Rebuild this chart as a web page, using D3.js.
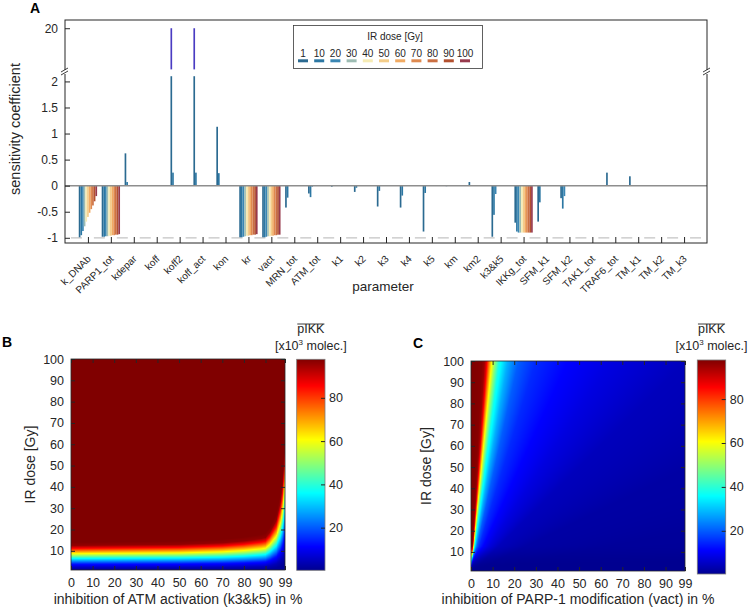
<!DOCTYPE html>
<html><head><meta charset="utf-8">
<script src="https://cdn.jsdelivr.net/npm/d3@7"></script>
<style>
body{margin:0;background:#fff;}
svg{display:block;font-family:"Liberation Sans",Arial,Helvetica,sans-serif;}
</style></head>
<body><svg id="chart" width="748" height="608"></svg>
<script>
// ---------------- DATA ----------------
const parameters = ["k_DNAb","PARP1_tot","kdepar","koff","koff2","koff_act","kon","kr","vact","MRN_tot","ATM_tot","k1","k2","k3","k4","k5","km","km2","k3&k5","IKKg_tot","SFM_k1","SFM_k2","TAK1_tot","TRAF6_tot","TM_k1","TM_k2","TM_k3"];
const doses = [1,10,20,30,40,50,60,70,80,90,100];
const doseColors = ["#2b6a91","#2c77a3","#3a86b3","#9dbcb3","#f6ebb4","#f4cd89","#f1aa62","#df8a50","#cb6f42","#b3502f","#973a4d"];
// sensitivity coefficients, one array per IR dose (order of parameters)
const sens_1   = [-0.99,-0.98,0.62,0,20,20,1.13,-0.99,-0.99,-0.42,-0.15,-0.02,-0.12,-0.40,-0.42,-0.88,-0.01,0.07,-0.98,-0.71,-0.69,-0.24,0,0.25,0.18,0,0];
const sens_10  = [-0.95,-0.98,0.07,0,0.25,0.25,0.24,-0.99,-0.99,-0.23,-0.22,0,-0.04,-0.10,-0.19,-0.14,0,0,-0.56,-0.88,-0.32,-0.44,0,0,0,0,0];
const sens_20  = [-0.87,-0.97,0,0,0,0,0,-0.98,-0.98,0,-0.02,0,0,0,0,0,0,0,-0.16,-0.90,0,-0.20,0,0,0,0,0];
const sens_30  = [-0.78,-0.97,0,0,0,0,0,-0.97,-0.97,0,0,0,0,0,0,0,0,0,0,-0.90,0,0,0,0,0,0,0];
const sens_40  = [-0.69,-0.96,0,0,0,0,0,-0.96,-0.97,0,0,0,0,0,0,0,0,0,0,-0.90,0,0,0,0,0,0,0];
const sens_50  = [-0.60,-0.96,0,0,0,0,0,-0.96,-0.96,0,0,0,0,0,0,0,0,0,0,-0.90,0,0,0,0,0,0,0];
const sens_60  = [-0.52,-0.95,0,0,0,0,0,-0.95,-0.96,0,0,0,0,0,0,0,0,0,0,-0.90,0,0,0,0,0,0,0];
const sens_70  = [-0.45,-0.95,0,0,0,0,0,-0.95,-0.95,0,0,0,0,0,0,0,0,0,0,-0.90,0,0,0,0,0,0,0];
const sens_80  = [-0.38,-0.94,0,0,0,0,0,-0.94,-0.95,0,0,0,0,0,0,0,0,0,0,-0.90,0,0,0,0,0,0,0];
const sens_90  = [-0.30,-0.94,0,0,0,0,0,-0.94,-0.94,0,0,0,0,0,0,0,0,0,0,-0.90,0,0,0,0,0,0,0];
const sens_100 = [-0.20,-0.93,0,0,0,0,0,-0.93,-0.94,0,0,0,0,0,0,0,0,0,0,-0.90,0,0,0,0,0,0,0];
const sensSeries = [sens_1,sens_10,sens_20,sens_30,sens_40,sens_50,sens_60,sens_70,sens_80,sens_90,sens_100];
const yTicksLow = [-1,-0.5,0,0.5,1,1.5,2];
const yTicksUp = [20];

// Panel B: pIKK at zero inhibition vs dose, and dose-shift with ATM inhibition
const bDoseAt0  = [1, 2, 3.8, 6.5, 8.8, 11.2, 12.5, 14, 100];
const bLevelAt0 = [1, 4, 13, 37, 62, 86, 96, 97.8, 97.8];
const bInhib     = [0, 50, 70, 80, 88, 90, 92, 95, 97, 98, 99];
const bDoseShift = [1, 1.04, 1.1, 1.17, 1.26, 1.3, 1.5, 1.95, 2.7, 3.4, 4.8];
// Panel C: pIKK level vs (PARP-1 inhibition % / dose Gy)
const cRatio = [0, 0.03, 0.05, 0.062, 0.072, 0.083, 0.095, 0.11, 0.13, 0.17, 0.22, 0.3, 0.45, 0.65, 0.85, 1.0, 2, 5, 20, 100];
const cLevel = [97.8, 97.5, 97, 95, 88, 75, 62, 50, 38, 28, 20, 15, 11, 8, 6, 4.5, 2.2, 1.2, 0.6, 0.3];
const heatXTicks = [0,10,20,30,40,50,60,70,80,90,99];
const heatYTicks = [10,20,30,40,50,60,70,80,90,100];
const cbTicks = [20,40,60,80];
const cbRange = [0.2, 97.8];

// ---------------- DRAW ----------------
const svg = d3.select("#chart");
const ink = "#262626";

// ===== Panel A =====
const A = {l:65, r:707, t:20, b:243};
const x = d3.scaleLinear().domain([0, parameters.length+1]).range([A.l, A.r]);
const yLow = d3.scaleLinear().domain([-1.1, 2.2]).range([243, 71]);
const yUp = d3.scaleLinear().domain([19, 20.2]).range([69.4, 20]);
const inner = d3.scaleBand().domain(doses).range([-0.4, 0.4]);
const gA = svg.append("g");

// dashed line at -1
const step = x(1)-x(0), dash = 11;
gA.append("line").attr("x1",x(0)).attr("x2",x(parameters.length+1))
  .attr("y1",yLow(-1)).attr("y2",yLow(-1))
  .attr("stroke","#c4c4c4").attr("stroke-width",1.3)
  .attr("stroke-dasharray",`${dash} ${step-dash}`)
  .attr("stroke-dashoffset", step-(step/2-dash/2));

const bw = x(inner.bandwidth()) - x(0);
doses.forEach((d, si) => {
  const vals = sensSeries[si];
  vals.forEach((v, i) => {
    if (v === 0) return;
    const xs = x(i+1+inner(d));
    if (v < 0) {
      gA.append("rect").attr("x",xs).attr("width",bw).attr("y",yLow(0)).attr("height",yLow(v)-yLow(0)).attr("fill",doseColors[si]);
    } else if (v <= 2.2) {
      gA.append("rect").attr("x",xs).attr("width",bw).attr("y",yLow(v)).attr("height",yLow(0)-yLow(v)).attr("fill",doseColors[si]);
    } else {
      gA.append("rect").attr("x",xs).attr("width",bw).attr("y",yLow(2.1)).attr("height",yLow(0)-yLow(2.1)).attr("fill",doseColors[si]);
      gA.append("rect").attr("x",xs).attr("width",bw).attr("y",yUp(v)).attr("height",yUp(19)-yUp(v)).attr("fill","#4a3cc2");
    }
  });
});
// zero line
gA.append("line").attr("x1",A.l).attr("x2",A.r).attr("y1",yLow(0)).attr("y2",yLow(0)).attr("stroke","#8e8e8e").attr("stroke-width",1.5);
// box
gA.append("rect").attr("x",A.l).attr("y",A.t).attr("width",A.r-A.l).attr("height",A.b-A.t).attr("fill","none").attr("stroke",ink).attr("stroke-width",1);

function styleAxis(g, fs){
  g.select(".domain").remove();
  g.selectAll(".tick line").attr("stroke",ink);
  g.selectAll(".tick text").attr("fill",ink).style("font-size",fs+"px").style("font-family",'"Liberation Sans",Arial,sans-serif');
}
const ayl = gA.append("g").attr("transform",`translate(${A.l},0)`)
  .call(d3.axisLeft(yLow).tickValues(yTicksLow).tickSize(-5).tickPadding(7).tickFormat(d=>String(d)));
styleAxis(ayl, 12);
const ayu = gA.append("g").attr("transform",`translate(${A.l},0)`)
  .call(d3.axisLeft(yUp).tickValues(yTicksUp).tickSize(-5).tickPadding(7).tickFormat(d=>String(d)));
styleAxis(ayu, 12);
const axb = gA.append("g").attr("transform",`translate(0,${A.b})`)
  .call(d3.axisBottom(x).tickValues(d3.range(1, parameters.length+1)).tickSize(-6).tickFormat(""));
styleAxis(axb, 10);
// rotated category labels
gA.append("g").selectAll("text").data(parameters).join("text")
  .attr("transform",(d,i)=>`translate(${x(i+1)+1},${A.b+14}) rotate(-45)`)
  .attr("text-anchor","end").attr("dy","0.35em")
  .attr("fill",ink).style("font-size","10px").text(d=>d);
// axis break marks
[A.l, A.r].forEach(xx=>{
  gA.append("rect").attr("x",xx-2).attr("y",70).attr("width",4).attr("height",4).attr("fill","#fff");
  gA.append("path").attr("d",`M${xx-4},${72}L${xx+3},${68}M${xx-4},${75}L${xx+3},${71}`).attr("stroke",ink).attr("stroke-width",0.9).attr("fill","none");
});
// labels
gA.append("text").attr("x",30).attr("y",13).attr("font-weight","bold").style("font-size","14px").attr("fill","#000").text("A");
gA.append("text").attr("transform","translate(20,129) rotate(-90)").attr("text-anchor","middle").style("font-size","14.5px").attr("fill",ink).text("sensitivity coefficient");
gA.append("text").attr("x",383).attr("y",291).attr("text-anchor","middle").style("font-size","13.5px").attr("fill",ink).text("parameter");

// legend
const leg = gA.append("g");
leg.append("rect").attr("x",293.5).attr("y",25.5).attr("width",189).attr("height",43).attr("fill","#fff").attr("stroke","#3a3a3a").attr("stroke-width",0.8);
leg.append("text").attr("x",395).attr("y",40).attr("text-anchor","middle").style("font-size","10px").attr("fill",ink).text("IR dose [Gy]");
const legX = d3.scaleLinear().domain([0, doses.length-1]).range([303, 465]);
doses.forEach((d,i)=>{
  leg.append("text").attr("x",legX(i)).attr("y",57).attr("text-anchor","middle").style("font-size","10px").attr("fill",ink).text(d);
  leg.append("rect").attr("x",legX(i)-5).attr("y",59.3).attr("width",10).attr("height",3).attr("fill",doseColors[i]);
});

// ===== heatmaps =====
const jetStops = [0, 7/63, 23/63, 39/63, 55/63, 1];
const jet = d3.scaleLinear().domain(jetStops.map(t=>cbRange[0]+t*(cbRange[1]-cbRange[0])))
  .range(["#000090","#0000ff","#00ffff","#ffff00","#ff0000","#800000"]).clamp(true);

const bProfile = d3.scaleLinear().domain(bDoseAt0).range(bLevelAt0).clamp(true);
const bShift = d3.scaleLinear().domain(bInhib).range(bDoseShift).clamp(true);
const cProfile = d3.scaleLinear().domain(cRatio).range(cLevel).clamp(true);

function heatImage(g, xs, ys, fn){
  const x0 = Math.round(xs.range()[0]), x1 = Math.round(xs.range()[1]);
  const y0 = Math.round(ys.range()[1]), y1 = Math.round(ys.range()[0]);
  const w = x1-x0, h = y1-y0;
  const cv = document.createElement("canvas"); cv.width=w; cv.height=h;
  const ctx = cv.getContext("2d"); const img = ctx.createImageData(w,h);
  for (let j=0;j<h;j++) for (let i=0;i<w;i++){
    const xv = xs.invert(x0+i+0.5), yv = ys.invert(y0+j+0.5);
    const c = d3.rgb(jet(fn(xv,yv)));
    const k = (j*w+i)*4; img.data[k]=c.r; img.data[k+1]=c.g; img.data[k+2]=c.b; img.data[k+3]=255;
  }
  ctx.putImageData(img,0,0);
  g.append("image").attr("x",x0).attr("y",y0).attr("width",w).attr("height",h).attr("preserveAspectRatio","none").attr("href",cv.toDataURL());
}
function colorbar(g, x0, w, y0, y1){
  const cs = d3.scaleLinear().domain(cbRange).range([y1,y0]);
  const h = Math.round(y1-y0);
  const cv = document.createElement("canvas"); cv.width=1; cv.height=h;
  const ctx = cv.getContext("2d");
  for (let j=0;j<h;j++){ ctx.fillStyle = jet(cs.invert(y0+j+0.5)); ctx.fillRect(0,j,1,1); }
  g.append("image").attr("x",x0).attr("y",y0).attr("width",w).attr("height",h).attr("preserveAspectRatio","none").attr("href",cv.toDataURL()).style("image-rendering","pixelated");
  g.append("rect").attr("x",x0).attr("y",y0).attr("width",w).attr("height",h).attr("fill","none").attr("stroke","#7a7a7a").attr("stroke-width",0.8);
  const ax = g.append("g").attr("transform",`translate(${x0+w},0)`).call(d3.axisRight(cs).tickValues(cbTicks).tickSize(-4).tickPadding(6));
  styleAxis(ax, 12.5);
  ax.selectAll(".tick text").attr("x",4);
  const cx = x0 + w/2;
  const t = g.append("text").attr("x",cx).attr("y",333).attr("text-anchor","middle").style("font-size","12.5px").attr("fill",ink).text("pIKK");
  const tw = t.node().getComputedTextLength();
  g.append("line").attr("x1",cx-tw/2).attr("x2",cx+tw/2).attr("y1",324).attr("y2",324).attr("stroke",ink).attr("stroke-width",0.9);
  const t2 = g.append("text").attr("x",cx).attr("y",350).attr("text-anchor","middle").style("font-size","12.5px").attr("fill",ink);
  t2.append("tspan").text("[x10");
  t2.append("tspan").attr("dy",-5).style("font-size","8px").text("3");
  t2.append("tspan").attr("dy",5).text(" molec.]");
}
function heatAxes(g, xs, ys, xlabel, ylabelX){
  const x0 = xs.range()[0], x1 = xs.range()[1], y0 = ys.range()[1], y1 = ys.range()[0];
  const axB = g.append("g").attr("transform",`translate(0,${y1})`).call(d3.axisBottom(xs).tickValues(heatXTicks).tickSize(-4).tickPadding(8).tickFormat(d=>String(d)));
  styleAxis(axB, 12.5);
  const axT = g.append("g").attr("transform",`translate(0,${y0})`).call(d3.axisTop(xs).tickValues(heatXTicks).tickSize(-4).tickFormat(""));
  styleAxis(axT, 12);
  const axL = g.append("g").attr("transform",`translate(${x0},0)`).call(d3.axisLeft(ys).tickValues(heatYTicks).tickSize(-4).tickPadding(7).tickFormat(d=>String(d)));
  styleAxis(axL, 12.5);
  const axR = g.append("g").attr("transform",`translate(${x1},0)`).call(d3.axisRight(ys).tickValues(heatYTicks).tickSize(-4).tickFormat(""));
  styleAxis(axR, 12);
  g.append("rect").attr("x",x0).attr("y",y0).attr("width",x1-x0).attr("height",y1-y0).attr("fill","none").attr("stroke",ink).attr("stroke-width",0.8);
  g.append("text").attr("x",(x0+x1)/2).attr("y",604).attr("text-anchor","middle").style("font-size","14px").attr("fill",ink).text(xlabel);
  g.append("text").attr("transform",`translate(${ylabelX},${(y0+y1)/2}) rotate(-90)`).attr("text-anchor","middle").style("font-size","14px").attr("fill",ink).text("IR dose [Gy]");
}

// ===== Panel B =====
const gB = svg.append("g");
const xB = d3.scaleLinear().domain([0,99]).range([71,285]);
const yB = d3.scaleLinear().domain([1,100]).range([570,359]);
heatImage(gB, xB, yB, (inh, dose) => bProfile(dose / bShift(inh)));
heatAxes(gB, xB, yB, "inhibition of ATM activation (k3&k5) in %", 35);
colorbar(gB, 296.7, 28.3, 359.3, 570.5);
gB.append("text").attr("x",2).attr("y",347).attr("font-weight","bold").style("font-size","14px").attr("fill","#000").text("B");

// ===== Panel C =====
const gC = svg.append("g");
const xC = d3.scaleLinear().domain([0,99]).range([471,685]);
const yC = d3.scaleLinear().domain([1,100]).range([571,361]);
heatImage(gC, xC, yC, (inh, dose) => bProfile(dose) * cProfile(inh / dose) / 97.8);
heatAxes(gC, xC, yC, "inhibition of PARP-1 modification (vact) in %", 431);
colorbar(gC, 697.3, 28.4, 360, 574.3);
gC.append("text").attr("x",413).attr("y",348).attr("font-weight","bold").style("font-size","14px").attr("fill","#000").text("C");
</script></body></html>
